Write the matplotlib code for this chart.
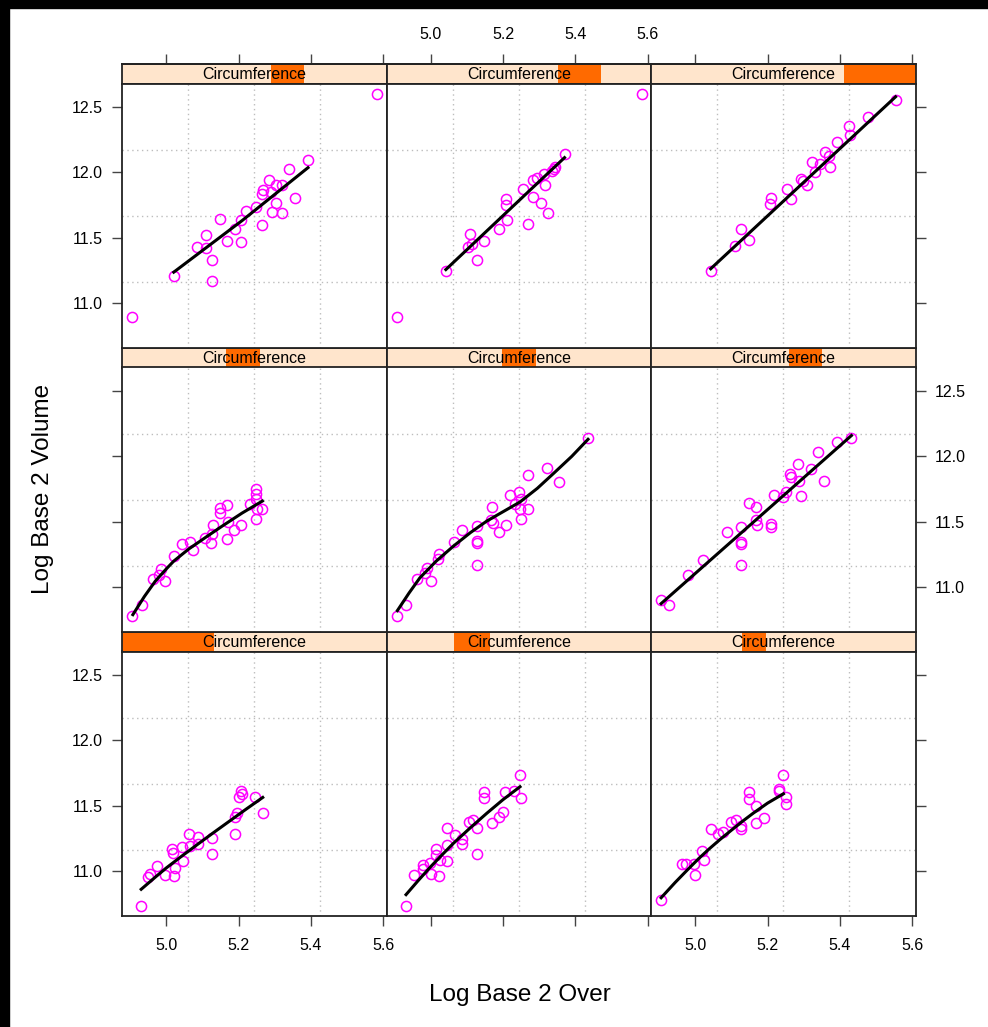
import matplotlib.pyplot as plt
from matplotlib.patches import Rectangle

plt.rcParams['font.family'] = ['Liberation Sans', 'DejaVu Sans']

# shingle of circumference, one interval per panel (lattice order: bottom-left first)
circ_min, circ_max = 26.0, 65.0
circ_ranges = [(26.0, 39.5), (36.0, 41.3), (39.4, 43.0),
               (41.3, 46.3), (43.1, 48.0), (46.4, 51.2),
               (48.0, 52.8), (51.3, 57.6), (54.5, 65.0)]

over_1 = [4.931, 4.951, 4.956, 4.974, 4.997, 5.022, 5.016, 5.020, 5.043, 5.046, 5.062, 5.066, 5.089,
          5.089, 5.128, 5.128, 5.189, 5.191, 5.197, 5.200, 5.207, 5.210, 5.246, 5.267, 5.024]
vol_1 = [10.729, 10.952, 10.972, 11.036, 10.967, 10.959, 11.165, 11.139, 11.182, 11.075, 11.280, 11.190, 11.259,
         11.208, 11.254, 11.131, 11.280, 11.408, 11.446, 11.562, 11.608, 11.592, 11.562, 11.439, 11.023]
fitx_1 = [4.931, 4.97, 5.0, 5.04, 5.086, 5.13, 5.18, 5.22, 5.267]
fity_1 = [10.857, 10.95, 11.02, 11.105, 11.20, 11.29, 11.39, 11.47, 11.562]

over_2 = [4.932, 4.954, 4.978, 4.978, 4.998, 5.000, 5.023, 5.016, 5.016, 5.026, 5.044, 5.046, 5.044, 5.067, 5.088,
          5.088, 5.107, 5.118, 5.127, 5.127, 5.148, 5.148, 5.169, 5.190, 5.201, 5.206, 5.229, 5.247, 5.249]
vol_2 = [10.726, 10.965, 11.047, 11.016, 11.062, 10.978, 10.960, 11.170, 11.124, 11.080, 11.195, 11.075, 11.324,
         11.272, 11.201, 11.242, 11.370, 11.388, 11.329, 11.131, 11.600, 11.554, 11.367, 11.408, 11.452, 11.606,
         11.611, 11.734, 11.559]
fitx_2 = [4.932, 4.965, 5.0, 5.03, 5.063, 5.11, 5.155, 5.20, 5.247]
fity_2 = [10.816, 10.922, 11.03, 11.117, 11.21, 11.33, 11.44, 11.545, 11.644]

over_3 = [4.906, 4.965, 4.976, 4.997, 4.999, 5.024, 5.019, 5.043, 5.062, 5.078, 5.099, 5.113, 5.126, 5.128,
          5.150, 5.150, 5.167, 5.167, 5.191, 5.231, 5.231, 5.244, 5.250, 5.250]
vol_3 = [10.773, 11.049, 11.049, 11.049, 10.967, 11.080, 11.152, 11.318, 11.280, 11.295, 11.375, 11.388, 11.339,
         11.318, 11.600, 11.549, 11.498, 11.369, 11.403, 11.626, 11.608, 11.736, 11.562, 11.511]
fitx_3 = [4.906, 4.945, 4.98, 5.01, 5.04, 5.07, 5.10, 5.13, 5.16, 5.20, 5.244]
fity_3 = [10.792, 10.91, 11.01, 11.093, 11.17, 11.242, 11.31, 11.377, 11.44, 11.518, 11.59]

over_4 = [4.906, 4.932, 4.963, 4.981, 4.987, 4.998, 5.021, 5.044, 5.067, 5.075, 5.107, 5.125, 5.127, 5.129,
          5.150, 5.150, 5.169, 5.172, 5.169, 5.187, 5.207, 5.231, 5.247, 5.247, 5.247, 5.247, 5.266, 5.252]
vol_4 = [10.773, 10.857, 11.055, 11.093, 11.137, 11.042, 11.239, 11.329, 11.344, 11.285, 11.375, 11.336, 11.401,
         11.472, 11.606, 11.562, 11.624, 11.495, 11.367, 11.431, 11.477, 11.631, 11.747, 11.708, 11.670, 11.521,
         11.593, 11.593]
fitx_4 = [4.908, 4.94, 4.970, 5.0, 5.021, 5.045, 5.063, 5.11, 5.155, 5.21, 5.266]
fity_4 = [10.785, 10.925, 11.042, 11.135, 11.196, 11.25, 11.29, 11.38, 11.465, 11.565, 11.657]

over_5 = [4.908, 4.933, 4.963, 4.984, 4.989, 5.000, 5.021, 5.024, 5.064, 5.088, 5.129, 5.129, 5.127, 5.127,
          5.169, 5.167, 5.173, 5.190, 5.208, 5.218, 5.233, 5.245, 5.250, 5.247, 5.249, 5.268, 5.268, 5.321,
          5.356, 5.435]
vol_5 = [10.773, 10.857, 11.055, 11.106, 11.144, 11.047, 11.216, 11.247, 11.344, 11.431, 11.465, 11.349, 11.336,
         11.165, 11.611, 11.511, 11.490, 11.418, 11.477, 11.703, 11.631, 11.729, 11.675, 11.593, 11.521, 11.593,
         11.857, 11.908, 11.805, 12.144]
fitx_5 = [4.908, 4.94, 4.970, 5.015, 5.063, 5.11, 5.155, 5.20, 5.247, 5.295, 5.340, 5.39, 5.435]
fity_5 = [10.816, 10.95, 11.067, 11.195, 11.311, 11.415, 11.503, 11.575, 11.650, 11.755, 11.870, 12.0, 12.131]

over_6 = [4.906, 4.928, 4.981, 5.021, 5.087, 5.126, 5.128, 5.126, 5.126, 5.148, 5.167, 5.167, 5.170, 5.209,
          5.209, 5.218, 5.244, 5.250, 5.266, 5.263, 5.284, 5.287, 5.293, 5.320, 5.339, 5.357, 5.393, 5.432]
vol_6 = [10.896, 10.859, 11.090, 11.203, 11.423, 11.459, 11.346, 11.326, 11.167, 11.642, 11.613, 11.511, 11.475,
         11.480, 11.459, 11.705, 11.690, 11.723, 11.839, 11.864, 11.941, 11.813, 11.698, 11.903, 12.031, 11.808,
         12.108, 12.141]
fitx_6 = [4.906, 5.432]
fity_6 = [10.87, 12.16]

over_7 = [5.582, 4.906, 5.021, 5.127, 5.127, 5.086, 5.109, 5.109, 5.148, 5.169, 5.208, 5.190, 5.208, 5.220,
          5.247, 5.266, 5.266, 5.268, 5.284, 5.304, 5.321, 5.303, 5.293, 5.321, 5.356, 5.340, 5.392, 5.289]
vol_7 = [12.600, 10.893, 11.201, 11.165, 11.324, 11.426, 11.418, 11.521, 11.644, 11.475, 11.462, 11.567, 11.631,
         11.703, 11.734, 11.598, 11.836, 11.862, 11.939, 11.905, 11.905, 11.765, 11.695, 11.688, 11.803, 12.028,
         12.098, 11.849]
fitx_7 = [5.021, 5.21, 5.392]
fity_7 = [11.234, 11.63, 12.036]

over_8 = [5.584, 4.906, 5.042, 5.109, 5.104, 5.113, 5.127, 5.148, 5.190, 5.210, 5.208, 5.208, 5.268, 5.256,
          5.284, 5.284, 5.295, 5.304, 5.323, 5.316, 5.312, 5.335, 5.344, 5.340, 5.370]
vol_8 = [12.600, 10.893, 11.242, 11.524, 11.426, 11.452, 11.324, 11.477, 11.562, 11.631, 11.747, 11.798, 11.600,
         11.872, 11.811, 11.939, 11.957, 11.767, 11.688, 11.905, 11.990, 12.010, 12.041, 12.026, 12.139]
fitx_8 = [5.042, 5.370]
fity_8 = [11.254, 12.113]

over_9 = [5.043, 5.110, 5.128, 5.150, 5.207, 5.210, 5.255, 5.266, 5.293, 5.309, 5.322, 5.332, 5.346, 5.360,
          5.373, 5.370, 5.392, 5.425, 5.429, 5.479, 5.554, 5.298]
vol_9 = [11.244, 11.436, 11.569, 11.480, 11.757, 11.803, 11.872, 11.795, 11.949, 11.903, 12.082, 12.000, 12.064,
         12.154, 12.044, 12.128, 12.231, 12.354, 12.287, 12.428, 12.559, 11.930]
fitx_9 = [5.043, 5.554]
fity_9 = [11.26, 12.58]

panel_over = [over_1, over_2, over_3, over_4, over_5, over_6, over_7, over_8, over_9]
panel_vol = [vol_1, vol_2, vol_3, vol_4, vol_5, vol_6, vol_7, vol_8, vol_9]
panel_fitx = [fitx_1, fitx_2, fitx_3, fitx_4, fitx_5, fitx_6, fitx_7, fitx_8, fitx_9]
panel_fity = [fity_1, fity_2, fity_3, fity_4, fity_5, fity_6, fity_7, fity_8, fity_9]

x_ticks = [5.0, 5.2, 5.4, 5.6]
y_ticks = [11.0, 11.5, 12.0, 12.5]
xlim = (4.878, 5.609)
ylim = (10.652, 12.682)

W, H = 988, 1027
fig = plt.figure(figsize=(W / 100, H / 100), dpi=100)
fig.patch.set_facecolor('white')


def box(x, y, w, h):
    return [x / W, 1 - (y + h) / H, w / W, h / H]


col_left = [122, 386.5, 651]
panel_w = 264.5
strip_h = 19.5
panel_h = 264.5
row_top = [64, 348, 632]   # strip tops, top row first

edge = '#222222'
for i in range(9):
    row = 2 - i // 3
    col = i % 3
    x0 = col_left[col]
    y0 = row_top[row]

    # strip
    sax = fig.add_axes(box(x0, y0, panel_w, strip_h))
    sax.set_facecolor('#ffe5cc')
    sax.set_xlim(circ_min, circ_max)
    sax.set_ylim(0, 1)
    lo, hi = circ_ranges[i]
    sax.axvspan(lo, hi, color='#ff6a00', lw=0)
    sax.text(0.5, 0.45, 'Circumference', transform=sax.transAxes, ha='center', va='center',
             fontsize=11.5, color='black', zorder=5)
    sax.set_xticks([])
    sax.set_yticks([])
    for s in sax.spines.values():
        s.set_color(edge)
        s.set_linewidth(1.3)

    # panel
    ax = fig.add_axes(box(x0, y0 + strip_h, panel_w, panel_h))
    ax.set_xlim(*xlim)
    ax.set_ylim(*ylim)
    for k in range(1, 4):
        ax.axvline(xlim[0] + k * (xlim[1] - xlim[0]) / 4, color='#bdbdbd', lw=1, ls=(0, (1, 2.5)), zorder=0)
        ax.axhline(ylim[0] + k * (ylim[1] - ylim[0]) / 4, color='#bdbdbd', lw=1, ls=(0, (1, 2.5)), zorder=0)
    ax.plot(panel_over[i], panel_vol[i], 'o', mfc='none', mec='#ff00ff', ms=7.3, mew=1.1, zorder=3)
    ax.plot(panel_fitx[i], panel_fity[i], color='black', lw=2.2, zorder=4, solid_joinstyle='round')
    for s in ax.spines.values():
        s.set_color(edge)
        s.set_linewidth(1.3)

    ax.set_xticks(x_ticks)
    ax.set_yticks(y_ticks)
    ax.set_xticklabels(['%.1f' % v for v in x_ticks])
    ax.set_yticklabels(['%.1f' % v for v in y_ticks])
    ax.tick_params(direction='out', length=7, width=1, color='#444444', labelsize=11.5,
                   labelcolor='black', pad=7,
                   left=(col == 0), right=(col == 2),
                   labelleft=(col == 0 and row != 1), labelright=(col == 2 and row == 1),
                   bottom=(row == 2), top=False,
                   labelbottom=(row == 2 and col != 1), labeltop=False)
    ax.tick_params(axis='x', pad=9)

    if row == 0:
        sec = ax.secondary_xaxis(1 + strip_h / panel_h)
        sec.set_xticks(x_ticks)
        if col == 1:
            sec.set_xticklabels(['%.1f' % v for v in x_ticks])
        else:
            sec.set_xticklabels([])
        sec.tick_params(direction='out', length=7, width=1, color='#444444', labelsize=11.5,
                        labelcolor='black', pad=9)
        sec.spines['top'].set_color(edge)
        sec.spines['top'].set_linewidth(1.3)

fig.text(43 / W, 1 - 489 / H, 'Log Base 2 Volume', rotation=90, ha='center', va='center', fontsize=17.5)
fig.text(520 / W, 1 - 995 / H, 'Log Base 2 Over', ha='center', va='center', fontsize=17.5)

# black frame bands along the top and left edge
fig.patches.append(Rectangle((0, 1 - 8 / H), 1, 8 / H, transform=fig.transFigure, color='black', zorder=10))
fig.patches.append(Rectangle((0, 0), 9 / W, 1, transform=fig.transFigure, color='black', zorder=10))

fig.savefig('out.png', dpi=100)
